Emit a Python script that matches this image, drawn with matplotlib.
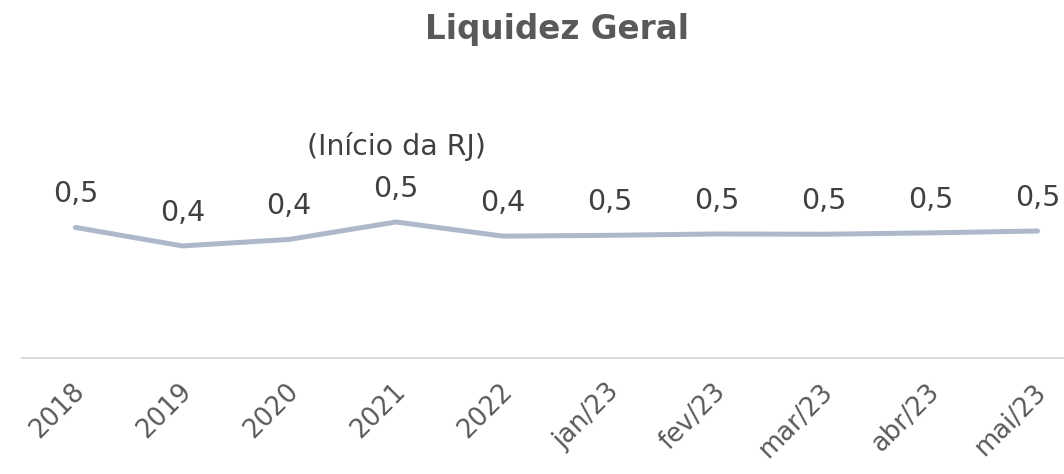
import matplotlib.pyplot as plt
from matplotlib.transforms import ScaledTranslation

categorias = ["2018", "2019", "2020", "2021", "2022", "jan/23", "fev/23", "mar/23", "abr/23", "mai/23"]
liquidez = [0.480, 0.412, 0.436, 0.500, 0.448, 0.451, 0.456, 0.455, 0.460, 0.467]
nota_idx = 3
nota = "(Início da RJ)"

cinza = "#595959"
cor_linha = "#ADB9CA"

plt.rcParams["font.family"] = ["DejaVu Sans"]

fig = plt.figure(figsize=(10.64, 4.74), dpi=100)
W, H = 1064, 474
# eixo em pixels: esquerda 22, direita 1091 (passa da borda), base 358, topo 100
ax = fig.add_axes([22 / W, (H - 358) / H, (1091 - 22) / W, (358 - 100) / H])

x = list(range(len(categorias)))
ax.plot(x, liquidez, color=cor_linha, lw=3.6, solid_capstyle="round", solid_joinstyle="round")

for xi, v in zip(x, liquidez):
    ax.annotate(f"{v:.1f}".replace(".", ","), (xi, v), xytext=(0, 24), textcoords="offset points",
                ha="center", va="center", fontsize=20.5, color="#404040")

ax.annotate(nota, (nota_idx, liquidez[nota_idx]), xytext=(0, 54), textcoords="offset points",
            ha="center", va="center", fontsize=20.5, color="#404040")

ax.set_xlim(-0.5, len(categorias) - 0.5)
ax.set_ylim(0, 0.9485)
ax.set_yticks([])
ax.set_xticks(x)
ax.set_xticklabels(categorias, rotation=45, ha="right", rotation_mode="anchor", fontsize=18.5, color=cinza)
ax.tick_params(axis="x", length=0, pad=15)
desloc = ScaledTranslation(-4 / 100, 0, fig.dpi_scale_trans)
for lbl in ax.get_xticklabels():
    lbl.set_transform(lbl.get_transform() + desloc)
for s in ["top", "right", "left"]:
    ax.spines[s].set_visible(False)
ax.spines["bottom"].set_color("#D9D9D9")
ax.spines["bottom"].set_linewidth(1.5)

fig.text(557 / W, 1 - 30 / H, "Liquidez Geral", ha="center", va="center",
         fontsize=23.5, fontweight="bold", color=cinza)

fig.savefig("out.png", dpi=100)
